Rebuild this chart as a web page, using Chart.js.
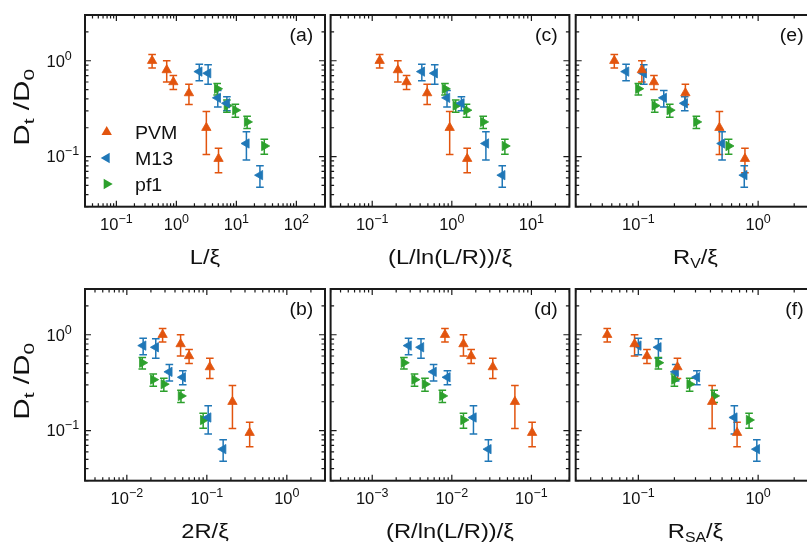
<!DOCTYPE html>
<html>
<head>
<meta charset="utf-8">
<script src="https://cdn.jsdelivr.net/npm/chart.js@4.4.1/dist/chart.umd.min.js"></script>
<style>
  html, body { margin: 0; padding: 0; background: #fff; overflow: hidden; }
  #wrap { position: relative; width: 830px; height: 550px; }
  #wrap canvas { position: absolute; left: 0; top: 0; }
</style>
</head>
<body>
<div id="wrap"></div>
<script>
(function(){
  'use strict';

  // normalised diffusion D_t/D_0, shared by every panel
  const pvmD   = [1.0, 0.8, 0.6, 0.46, 0.2, 0.095];
  const pvmErr = [0.16, 0.2, 0.1, 0.11, 0.095, 0.027];
  const m13D   = [0.77, 0.74, 0.41, 0.36, 0.137, 0.064];
  const m13Err = [0.15, 0.17, 0.08, 0.06, 0.045, 0.016];
  const pf1D   = [0.51, 0.34, 0.305, 0.23, 0.129];
  const pf1Err = [0.07, 0.05, 0.047, 0.034, 0.023];

  // L/xi
  const pvmL = [0.394, 0.69, 0.89, 1.62, 3.16, 5.04];
  const m13L = [2.41, 3.38, 4.9, 6.95, 14.7, 24.7];
  const pf1L = [4.79, 6.95, 9.62, 15.1, 29.2];
  // 2R/xi
  const pvm2R = [0.028, 0.047, 0.06, 0.109, 0.209, 0.343];
  const m132R = [0.016, 0.023, 0.034, 0.05, 0.104, 0.16];
  const pf12R = [0.0156, 0.0214, 0.029, 0.0475, 0.09];
  // (L/ln(L/R))/xi
  const pvmLln = [0.124, 0.21, 0.27, 0.49, 0.94, 1.56];
  const m13Lln = [0.42, 0.61, 0.87, 1.32, 2.68, 4.3];
  const pf1Lln = [0.82, 1.12, 1.53, 2.48, 4.64];
  // (R/ln(L/R))/xi
  const pvmRln = [0.0082, 0.014, 0.0175, 0.0327, 0.062, 0.102];
  const m13Rln = [0.00286, 0.0041, 0.0059, 0.0088, 0.0187, 0.0288];
  const pf1Rln = [0.0025, 0.0034, 0.0046, 0.0076, 0.014];
  // R_V/xi
  const pvmRv = [0.063, 0.107, 0.135, 0.247, 0.475, 0.776];
  const m13Rv = [0.079, 0.111, 0.163, 0.244, 0.5, 0.766];
  const pf1Rv = [0.1, 0.137, 0.183, 0.305, 0.567];
  // R_SA/xi
  const pvmRsa = [0.055, 0.093, 0.118, 0.212, 0.413, 0.667];
  const m13Rsa = [0.1, 0.147, 0.205, 0.308, 0.633, 0.975];
  const pf1Rsa = [0.147, 0.2, 0.268, 0.43, 0.84];

  const seriesNames = ['PVM', 'M13', 'pf1'];
  const yRange = [0.03, 3];

  const FONT = '"Liberation Sans", Arial, sans-serif';
  const COLORS = ['#e2540e', '#1f77b7', '#2ca02c'];
  const ROT = [0, -90, 90];          // triangle up / left / right
  const YS = [pvmD, m13D, pf1D];
  const ERRS = [pvmErr, m13Err, pf1Err];
  const W = 830, H = 550;

  const panels = [
    { tag: '(a)', left: 85,    right: 325,   top: 15,  bottom: 206.7, xr: [0.03, 300],   yLabels: true, legend: true,
      title: [['L/\u03be', 21, 0]], xs: [pvmL, m13L, pf1L] },
    { tag: '(c)', left: 330.6, right: 569.4, top: 15,  bottom: 206.7, xr: [0.03, 30],
      title: [['(L/ln(L/R))/\u03be', 21, 0]], xs: [pvmLln, m13Lln, pf1Lln] },
    { tag: '(e)', left: 575.7, right: 815.3, top: 15,  bottom: 206.7, xr: [0.03, 3],
      title: [['R', 21, 0], ['V', 14, 4], ['/\u03be', 21, 0]], xs: [pvmRv, m13Rv, pf1Rv] },
    { tag: '(b)', left: 85,    right: 325,   top: 289, bottom: 480.7, xr: [0.003, 3],    yLabels: true,
      title: [['2R/\u03be', 21, 0]], xs: [pvm2R, m132R, pf12R] },
    { tag: '(d)', left: 330.6, right: 569.4, top: 289, bottom: 480.7, xr: [0.0003, 0.3],
      title: [['(R/ln(L/R))/\u03be', 21, 0]], xs: [pvmRln, m13Rln, pf1Rln] },
    { tag: '(f)', left: 575.7, right: 815.3, top: 289, bottom: 480.7, xr: [0.03, 3],
      title: [['R', 21, 0], ['SA', 14, 4], ['/\u03be', 21, 0]], xs: [pvmRsa, m13Rsa, pf1Rsa] }
  ];

  // text runs with their own size / baseline shift; sx stretches along the run
  function drawRich(ctx, parts, x, y, align, sx){
    sx = sx || 1;
    let w = 0;
    parts.forEach(p => { ctx.font = p[1] + 'px ' + FONT; w += ctx.measureText(p[0]).width; });
    w *= sx;
    let cx = align === 'center' ? x - w / 2 : (align === 'right' ? x - w : x);
    ctx.textAlign = 'left';
    ctx.textBaseline = 'alphabetic';
    parts.forEach(p => {
      ctx.font = p[1] + 'px ' + FONT;
      ctx.save();
      ctx.translate(cx, y + p[2]);
      ctx.scale(sx, 1);
      ctx.fillText(p[0], 0, 0);
      ctx.restore();
      cx += ctx.measureText(p[0]).width * sx;
    });
  }

  function powParts(e){
    const s = e < 0 ? '\u2212' + (-e) : String(e);
    return [['10', 16.5, 0], [s, 12.5, -7]];
  }

  function logTicks(min, max){
    const out = [];
    for (let e = Math.floor(Math.log10(min)); e <= Math.ceil(Math.log10(max)); e++) {
      for (let m = 1; m <= 9; m++) {
        const v = m * Math.pow(10, e);
        if (v >= min * 0.9999 && v <= max * 1.0001) out.push({ v, e, major: m === 1 });
      }
    }
    return out;
  }

  function drawTri(ctx, x, y, r, rot, color){
    let rad = rot * Math.PI / 180;
    ctx.beginPath();
    ctx.moveTo(x + Math.sin(rad) * r, y - Math.cos(rad) * r);
    rad += 2 * Math.PI / 3;
    ctx.lineTo(x + Math.sin(rad) * r, y - Math.cos(rad) * r);
    rad += 2 * Math.PI / 3;
    ctx.lineTo(x + Math.sin(rad) * r, y - Math.cos(rad) * r);
    ctx.closePath();
    ctx.fillStyle = color;
    ctx.fill();
  }

  function panelPlugin(p){
    return {
      id: 'panelDecor',
      beforeDatasetsDraw(chart){
        const { ctx, scales: { x, y } } = chart;
        ctx.save();
        ctx.lineWidth = 1.5;
        chart.data.datasets.forEach(ds => {
          ctx.strokeStyle = ds.borderColor;
          ds.data.forEach((pt, i) => {
            const e = ds.err[i];
            const px = x.getPixelForValue(pt.x);
            const y1 = y.getPixelForValue(pt.y + e);
            const y2 = y.getPixelForValue(pt.y - e);
            ctx.beginPath();
            ctx.moveTo(px, y1); ctx.lineTo(px, y2);
            ctx.moveTo(px - 3.8, y1); ctx.lineTo(px + 3.8, y1);
            ctx.moveTo(px - 3.8, y2); ctx.lineTo(px + 3.8, y2);
            ctx.stroke();
          });
        });
        ctx.restore();
      },
      afterDraw(chart){
        const { ctx, chartArea: a, scales: { x, y } } = chart;
        ctx.save();
        ctx.strokeStyle = '#1a1a1a';
        ctx.fillStyle = '#111';

        // ticks on all four sides, pointing inward
        ctx.lineWidth = 1.2;
        ctx.beginPath();
        logTicks(p.xr[0], p.xr[1]).forEach(t => {
          const px = x.getPixelForValue(t.v);
          const len = t.major ? 6 : 3.5;
          ctx.moveTo(px, a.bottom); ctx.lineTo(px, a.bottom - len);
          ctx.moveTo(px, a.top); ctx.lineTo(px, a.top + len);
        });
        logTicks(yRange[0], yRange[1]).forEach(t => {
          const py = y.getPixelForValue(t.v);
          const len = t.major ? 6 : 3.5;
          ctx.moveTo(a.left, py); ctx.lineTo(a.left + len, py);
          ctx.moveTo(a.right, py); ctx.lineTo(a.right - len, py);
        });
        ctx.stroke();

        // frame
        ctx.lineWidth = 2;
        ctx.strokeRect(a.left, a.top, a.right - a.left, a.bottom - a.top);

        // x tick labels
        logTicks(p.xr[0], p.xr[1]).filter(t => t.major).forEach(t => {
          drawRich(ctx, powParts(t.e), x.getPixelForValue(t.v), a.bottom + 23.5, 'center');
        });
        // y tick labels and title (left column only)
        if (p.yLabels) {
          logTicks(yRange[0], yRange[1]).filter(t => t.major).forEach(t => {
            drawRich(ctx, powParts(t.e), 46.5, y.getPixelForValue(t.v) + 5.9, 'left');
          });
          ctx.save();
          ctx.translate(29, (a.top + a.bottom) / 2 - 3.5);
          ctx.rotate(-Math.PI / 2);
          drawRich(ctx, [['D', 22, 0], ['t', 15.5, 5], [' /D', 22, 0], ['0', 15.5, 5]], 0, 0, 'center', 1.35);
          ctx.restore();
        }

        // axis title and panel tag
        drawRich(ctx, p.title, (a.left + a.right) / 2, a.bottom + 57, 'center', 1.13);
        drawRich(ctx, [[p.tag, 18, 0]], a.right - 11.7, a.top + 25.5, 'right', 1.08);

        // legend
        if (p.legend) {
          const rows = [132, 158, 184];
          seriesNames.forEach((name, i) => {
            drawTri(ctx, 106.7, rows[i], 6, ROT[i], COLORS[i]);
            ctx.fillStyle = '#111';
            drawRich(ctx, [[name, 19, 0]], 135, rows[i] + 7, 'left', 1.03);
          });
        }
        ctx.restore();
      }
    };
  }

  const wrap = document.getElementById('wrap');
  panels.forEach(p => {
    const canvas = document.createElement('canvas');
    canvas.width = W; canvas.height = H;
    canvas.style.width = W + 'px'; canvas.style.height = H + 'px';
    wrap.appendChild(canvas);

    const datasets = seriesNames.map((name, i) => ({
      label: name,
      data: p.xs[i].map((xv, j) => ({ x: xv, y: YS[i][j] })),
      err: ERRS[i],
      pointStyle: 'triangle',
      pointRotation: ROT[i],
      pointRadius: 5.4,
      pointBorderWidth: 0.8,
      pointBackgroundColor: COLORS[i],
      pointBorderColor: COLORS[i],
      borderColor: COLORS[i],
      backgroundColor: COLORS[i],
      showLine: false
    }));

    new Chart(canvas, {
      type: 'scatter',
      data: { datasets },
      options: {
        responsive: false,
        animation: false,
        events: [],
        layout: { autoPadding: false, padding: { left: p.left, top: p.top, right: W - p.right, bottom: H - p.bottom } },
        scales: {
          x: { type: 'logarithmic', min: p.xr[0], max: p.xr[1], display: false },
          y: { type: 'logarithmic', min: yRange[0], max: yRange[1], display: false }
        },
        plugins: { legend: { display: false }, tooltip: { enabled: false } }
      },
      plugins: [panelPlugin(p)]
    });
  });
})();
</script>
</body>
</html>
